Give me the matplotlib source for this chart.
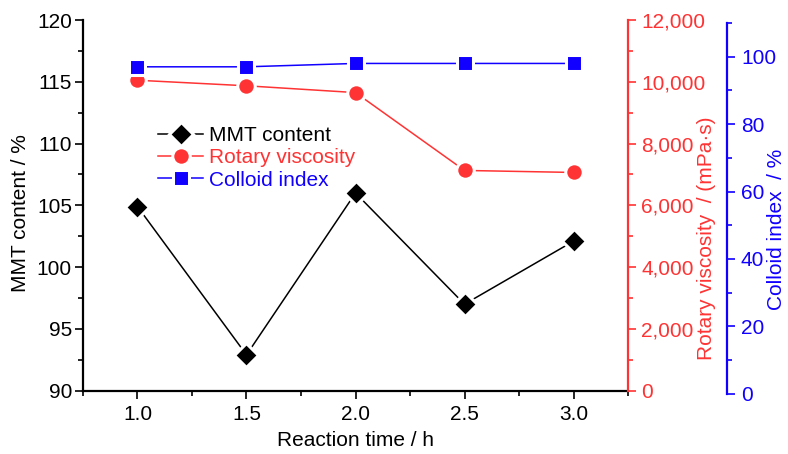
import matplotlib
matplotlib.use('Agg')
import matplotlib.pyplot as plt
from matplotlib.ticker import MultipleLocator, FuncFormatter

plt.rcParams['font.family'] = ['Liberation Sans', 'DejaVu Sans']
FS = 15

# data
time_h = [1.0, 1.5, 2.0, 2.5, 3.0]
mmt_content = [104.9, 92.9, 106.0, 97.0, 102.1]
rotary_visc = [10050, 9870, 9650, 7130, 7065]
colloid_idx = [97.0, 97.0, 98.0, 98.0, 98.0]

RED = '#FF3333'
BLUE = '#1100FF'

fig = plt.figure(figsize=(7.88, 4.54), dpi=100)
L, B, W, H = 83 / 788, 63.3 / 454, 545 / 788, 370.7 / 454
ax = fig.add_axes([L, B, W, H])
ax2 = fig.add_axes([L, B, W, H], sharex=ax)
ax3 = fig.add_axes([L, B - 3 / 454, W, H], sharex=ax)
for a in (ax2, ax3):
    a.patch.set_visible(False)

def tick_style(a, color, side, pad):
    a.tick_params(axis='y', which='major', direction='out', length=6, width=1.2,
                  colors=color, labelsize=FS, pad=pad)
    a.tick_params(axis='y', which='minor', direction='out', length=3.5, width=1.2, colors=color)
    a.yaxis.set_ticks_position(side)
    a.yaxis.set_label_position(side)

# main axis
for s in ('top', 'right'):
    ax.spines[s].set_visible(False)
ax.spines['left'].set_linewidth(1.6)
ax.spines['bottom'].set_linewidth(1.6)
ax.set_xlim(0.75, 3.25)
ax.set_ylim(90, 120)
ax.xaxis.set_major_locator(MultipleLocator(0.5))
ax.xaxis.set_minor_locator(MultipleLocator(0.25))
ax.yaxis.set_major_locator(MultipleLocator(5))
ax.yaxis.set_minor_locator(MultipleLocator(2.5))
ax.xaxis.set_major_formatter(FuncFormatter(lambda v, p: '%.1f' % v))
ax.tick_params(axis='x', which='major', direction='out', length=6, width=1.2, labelsize=FS, pad=4)
ax.tick_params(axis='x', which='minor', direction='out', length=3.5, width=1.2)
tick_style(ax, 'black', 'left', 2)
ax.set_xlabel('Reaction time / h', fontsize=FS, labelpad=5)
ax.set_ylabel('MMT content / %', fontsize=FS)
ax.yaxis.set_label_coords(-0.097, 0.48)

# red axis
for s in ('top', 'left', 'bottom'):
    ax2.spines[s].set_visible(False)
ax2.spines['right'].set_color(RED)
ax2.spines['right'].set_linewidth(1.6)
ax2.set_ylim(0, 12000)
ax2.yaxis.set_major_locator(MultipleLocator(2000))
ax2.yaxis.set_minor_locator(MultipleLocator(1000))
ax2.yaxis.set_major_formatter(FuncFormatter(lambda v, p: '{:,.0f}'.format(v)))
tick_style(ax2, RED, 'right', 3.5)
ax2.tick_params(axis='x', which='both', bottom=False, labelbottom=False)
ax2.set_ylabel('Rotary viscosity  / (mPa·s)', color=RED, fontsize=FS)
ax2.yaxis.set_label_coords(1.127, 0.41)

# blue axis
for s in ('top', 'left', 'bottom'):
    ax3.spines[s].set_visible(False)
ax3.spines['right'].set_position(('axes', 1.1817))
ax3.spines['right'].set_color(BLUE)
ax3.spines['right'].set_linewidth(1.6)
ax3.set_ylim(0, 110)
ax3.yaxis.set_major_locator(MultipleLocator(20))
ax3.yaxis.set_minor_locator(MultipleLocator(10))
tick_style(ax3, BLUE, 'right', 4)
ax3.tick_params(axis='x', which='both', bottom=False, labelbottom=False)
ax3.set_ylabel('Colloid index  / %', color=BLUE, fontsize=FS)
ax3.yaxis.set_label_coords(1.255, 0.444)

# series (white marker edge gives the gap around the markers)
l1, = ax.plot(time_h, mmt_content, '-', color='black', lw=1.1, marker='D', ms=12.5,
              mfc='black', mec='white', mew=2.2, label='MMT content', clip_on=False)
l2, = ax2.plot(time_h, rotary_visc, '-', color=RED, lw=1.1, marker='o', ms=12.6,
               mfc=RED, mec='white', mew=2.2, label='Rotary viscosity', clip_on=False)
l3, = ax3.plot(time_h, colloid_idx, '-', color=BLUE, lw=1.1, marker='s', ms=11.8,
               mfc=BLUE, mec='white', mew=2.2, label='Colloid index', clip_on=False)

leg = ax3.legend(handles=[l1, l2, l3], loc='upper left', bbox_to_anchor=(0.138, 0.722),
                 frameon=False, fontsize=FS, handlelength=2.15, handletextpad=0.3,
                 labelspacing=0.16, borderpad=0, borderaxespad=0)
for txt, c in zip(leg.get_texts(), ['black', RED, BLUE]):
    txt.set_color(c)

fig.savefig('out.png', dpi=100)
